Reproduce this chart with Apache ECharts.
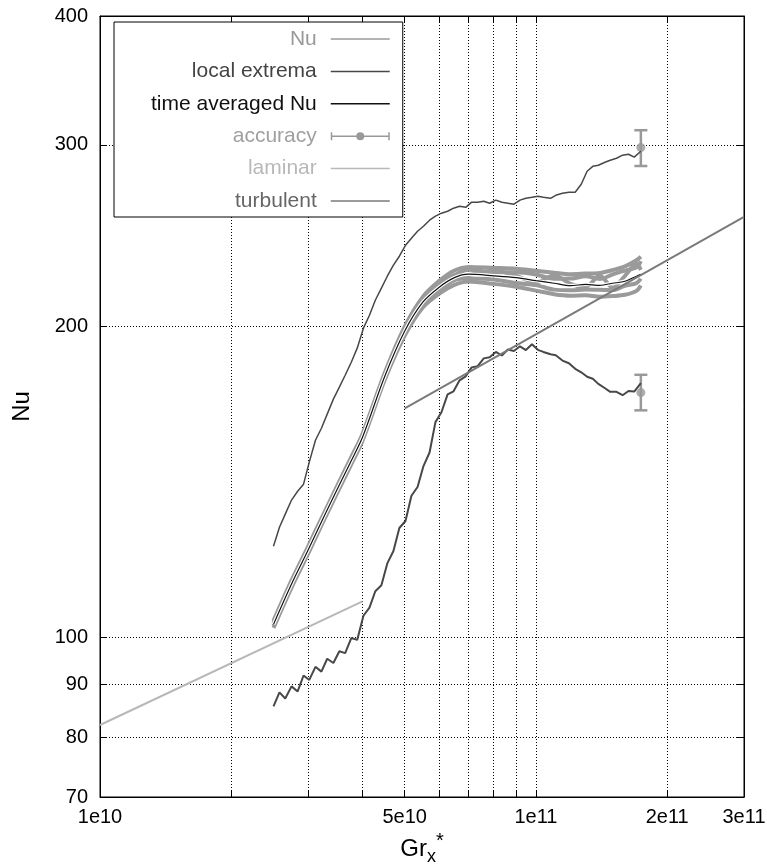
<!DOCTYPE html>
<html>
<head>
<meta charset="utf-8">
<script src="https://cdn.jsdelivr.net/npm/echarts@6/dist/echarts.min.js"></script>
<style>
html, body { margin: 0; padding: 0; background: #fff; }
#chart { width: 767px; height: 865px; }
</style>
</head>
<body>
<div id="chart"></div>
<script>
// Gr_x* positions of the instantaneous Nu curves and their time average
const grBand = [2.5e10, 2.75e10, 3e10, 3.25e10, 3.5e10, 3.75e10, 4e10, 4.5e10, 5e10, 5.5e10, 6e10, 6.5e10,
	7e10, 8e10, 9e10, 1e11, 1.1e11, 1.2e11, 1.3e11, 1.4e11, 1.5e11, 1.6e11, 1.7e11, 1.74e11];
const nuAvg = [102.9, 112.6, 121.4, 130.4, 139.1, 147.6, 156.2, 179.0, 198.0, 211.2, 218.4, 223.1,
	224.8, 224.0, 223.1, 221.6, 220.3, 219.1, 219.8, 219.3, 220.3, 221.3, 223.8, 224.8];
const nuA = [103.7, 113.5, 122.4, 131.4, 140.2, 148.8, 157.4, 180.4, 200.0, 213.7, 221.5, 226.7,
	228.4, 228.0, 227.6, 226.5, 225.6, 224.8, 225.1, 225.4, 226.9, 228.8, 231.9, 233.8];
const nuB = [102.1, 111.7, 120.4, 129.4, 138.0, 146.4, 155.0, 177.6, 196.0, 208.7, 215.3, 219.5,
	221.2, 220.0, 218.6, 216.7, 215.0, 214.3, 214.5, 213.8, 214.1, 214.7, 216.6, 219.2];
const nuC = [103.3, 113.1, 121.9, 130.9, 139.7, 148.2, 156.8, 179.7, 198.8, 212.5, 220.1, 224.4,
	227.0, 225.8, 225.8, 224.7, 222.5, 222.6, 223.8, 222.4, 224.7, 226.6, 228.3, 231.5];
const nuD = [102.5, 112.2, 120.9, 129.9, 138.5, 147.0, 155.6, 178.3, 197.0, 209.9, 216.7, 221.8,
	222.6, 222.2, 220.4, 219.4, 217.2, 216.9, 217.2, 217.1, 217.0, 219.1, 220.4, 222.6];
const nuE = [102.9, 112.6, 121.4, 130.4, 139.1, 147.6, 156.2, 179.0, 198.0, 211.6, 218.4, 224.0,
	224.4, 226.7, 224.0, 220.7, 224.3, 220.0, 218.5, 224.1, 218.1, 224.0, 230.1, 227.0];

// local extrema (upper and lower envelope)
const grExt = [2.50e10, 2.58e10, 2.66e10, 2.75e10, 2.84e10, 2.93e10, 3.02e10, 3.12e10, 3.22e10, 3.32e10,
	3.43e10, 3.54e10, 3.65e10, 3.77e10, 3.89e10, 4.02e10, 4.15e10, 4.28e10, 4.42e10, 4.56e10,
	4.71e10, 4.86e10, 5.02e10, 5.18e10, 5.35e10, 5.52e10, 5.70e10, 5.88e10, 6.07e10, 6.27e10,
	6.47e10, 6.68e10, 6.90e10, 7.12e10, 7.35e10, 7.59e10, 7.83e10, 8.09e10, 8.35e10, 8.62e10,
	8.90e10, 9.19e10, 9.48e10, 9.79e10, 1.01e11, 1.04e11, 1.08e11, 1.11e11, 1.15e11, 1.19e11,
	1.23e11, 1.27e11, 1.31e11, 1.35e11, 1.39e11, 1.44e11, 1.48e11, 1.53e11, 1.58e11, 1.63e11,
	1.68e11, 1.74e11];
const extUpper = [122.5, 127.8, 131.6, 135.8, 138.5, 140.7, 147.8, 155.2, 159.4, 164.5,
	170.1, 174.7, 179.4, 184.7, 190.6, 199.3, 205.1, 212.1, 217.9, 223.8,
	229.4, 234.0, 239.8, 243.6, 247.4, 250.2, 253.6, 255.9, 257.6, 258.7,
	260.5, 261.6, 261.0, 264.0, 264.0, 264.6, 263.4, 265.2, 264.0, 263.4,
	262.8, 265.2, 266.3, 266.9, 267.5, 266.9, 266.3, 268.1, 269.3, 269.9,
	269.9, 274.8, 282.9, 286.0, 286.7, 288.6, 289.9, 291.2, 293.2, 293.8,
	291.9, 295.8];
const extLower = [85.7, 88.4, 87.2, 89.6, 88.6, 91.8, 90.9, 93.6, 92.6, 95.3,
	94.4, 96.9, 96.5, 99.8, 99.4, 104.9, 106.8, 110.8, 112.3, 117.9,
	121.2, 127.6, 129.6, 137.1, 139.8, 146.5, 151.0, 161.6, 165.2, 171.9,
	173.1, 177.4, 179.0, 182.6, 183.1, 186.3, 186.8, 189.0, 187.5, 190.0,
	189.4, 191.4, 189.8, 192.3, 189.9, 189.0, 188.0, 187.6, 185.4, 184.3,
	182.0, 180.6, 178.8, 178.0, 176.0, 174.3, 172.9, 172.9, 171.6, 173.2,
	173.0, 176.3];

// accuracy estimate at the end of the run
const accGr = [1.74e11, 1.74e11];
const accNu = [298.2, 172.6];
const accLow = [286.2, 165.9];
const accHigh = [310.0, 179.6];

// correlations
const lamGr = [1e10, 4e10];
const lamNu = [82.2, 108.3];
const turbGr = [5e10, 3e11];
const turbNu = [166.6, 255.5];

// axes
const xTicks = [1e10, 2e10, 3e10, 4e10, 5e10, 6e10, 7e10, 8e10, 9e10, 1e11, 2e11, 3e11];
const xLabels = [1e10, 5e10, 1e11, 2e11, 3e11];
const yTicks = [70, 80, 90, 100, 200, 300, 400];

const FONT = 'Liberation Sans, Arial, Helvetica, sans-serif';
const pairs = (xs, ys) => xs.map((x, i) => [x, ys[i]]);

const fmtExp = v => {
	const e = Math.floor(Math.log10(v) + 1e-9);
	return Math.round(v / Math.pow(10, e)) + 'e' + e;
};

const dotted = { type: [1, 2], color: '#000', width: 1 };
// plain line sample for the legend (no symbol in the middle)
const LINE_ICON = 'path://M0,0H59V1.5H0Z';
const ACC_ICON = 'path://M0,0H1.5V8H0Z M57.5,0H59V8H57.5Z M0,3.25H59V4.75H0Z M33.5,4A4,4,0,1,1,25.5,4A4,4,0,1,1,33.5,4Z';

const nuLine = data => ({
	name: 'Nu', type: 'line', data, smooth: 0.3, symbol: 'none',
	lineStyle: { color: '#9a9a9a', width: 4 }, itemStyle: { color: '#9a9a9a' }
});

const chart = echarts.init(document.getElementById('chart'));
chart.setOption({
	animation: false,
	grid: {
		left: 100, right: 23, top: 16, bottom: 68, outerBoundsMode: 'none',
		show: true, borderColor: '#000', borderWidth: 1
	},
	legend: {
		orient: 'vertical', align: 'right', left: 114, top: 22,
		padding: [5, 13, 4, 37], itemWidth: 59, itemHeight: 8, itemGap: 8.4,
		borderColor: '#000', borderWidth: 1, borderRadius: 0, backgroundColor: '#fff',
		selectedMode: false, symbolKeepAspect: true,
		textStyle: { fontFamily: FONT, fontSize: 21, lineHeight: 24, padding: [0, 9, 0, 0] },
		data: [
			{ name: 'Nu', icon: LINE_ICON, textStyle: { color: '#999' } },
			{ name: 'local extrema', icon: LINE_ICON, textStyle: { color: '#444' } },
			{ name: 'time averaged Nu', icon: LINE_ICON, textStyle: { color: '#111' } },
			{ name: 'accuracy', icon: ACC_ICON, textStyle: { color: '#a0a0a0' } },
			{ name: 'laminar', icon: LINE_ICON, textStyle: { color: '#b8b8b8' } },
			{ name: 'turbulent', icon: LINE_ICON, textStyle: { color: '#666' } }
		]
	},
	xAxis: [{
		type: 'log', logBase: 10, min: 1e10, max: 3e11,
		name: '{g|Gr}{s|x}{p|*}', nameLocation: 'middle', nameGap: 30,
		nameTextStyle: {
			fontFamily: FONT, color: '#000',
			rich: {
				g: { fontFamily: FONT, fontSize: 24, lineHeight: 34, color: '#000' },
				s: { fontFamily: FONT, fontSize: 18, verticalAlign: 'bottom', lineHeight: 18, color: '#000' },
				p: { fontFamily: FONT, fontSize: 20, verticalAlign: 'top', lineHeight: 18, color: '#000' }
			}
		},
		axisLine: { lineStyle: { color: '#000', width: 1 } },
		axisTick: { inside: true, length: 7, customValues: xTicks, lineStyle: { color: '#000' } },
		axisLabel: { customValues: xLabels, formatter: fmtExp, fontFamily: FONT, fontSize: 20, color: '#000', margin: 10 },
		splitLine: { show: true, lineStyle: dotted }
	}, {
		type: 'log', logBase: 10, min: 1e10, max: 3e11, position: 'top',
		axisLine: { lineStyle: { color: '#000', width: 1 } },
		axisTick: { inside: true, length: 7, customValues: xTicks, lineStyle: { color: '#000' } },
		axisLabel: { show: false },
		splitLine: { show: false }
	}],
	yAxis: [{
		type: 'log', logBase: 10, min: 70, max: 400,
		name: 'Nu', nameLocation: 'middle', nameGap: 66,
		nameTextStyle: { fontFamily: FONT, fontSize: 24, color: '#000' },
		axisLine: { lineStyle: { color: '#000', width: 1 } },
		axisTick: { inside: true, length: 7, customValues: yTicks, lineStyle: { color: '#000' } },
		axisLabel: { customValues: yTicks, fontFamily: FONT, fontSize: 20, color: '#000', margin: 12 },
		splitLine: { show: true, lineStyle: dotted }
	}, {
		type: 'log', logBase: 10, min: 70, max: 400, position: 'right',
		axisLine: { lineStyle: { color: '#000', width: 1 } },
		axisTick: { inside: true, length: 7, customValues: yTicks, lineStyle: { color: '#000' } },
		axisLabel: { show: false },
		splitLine: { show: false }
	}],
	series: [
		nuLine(pairs(grBand, nuA)),
		nuLine(pairs(grBand, nuB)),
		nuLine(pairs(grBand, nuC)),
		nuLine(pairs(grBand, nuD)),
		nuLine(pairs(grBand, nuE)),
		{
			name: 'local extrema', type: 'line', data: pairs(grExt, extUpper), symbol: 'none',
			lineStyle: { color: '#484848', width: 1.5 }, itemStyle: { color: '#484848' }
		},
		{
			name: 'local extrema', type: 'line', data: pairs(grExt, extLower), symbol: 'none',
			lineStyle: { color: '#484848', width: 2 }, itemStyle: { color: '#484848' }
		},
		{
			name: 'avg halo', type: 'line', data: pairs(grBand, nuAvg), smooth: 0.3, symbol: 'none', silent: true,
			lineStyle: { color: '#fff', width: 3.5 }
		},
		{
			name: 'time averaged Nu', type: 'line', data: pairs(grBand, nuAvg), smooth: 0.3, symbol: 'none',
			lineStyle: { color: '#111', width: 1.2 }, itemStyle: { color: '#111' }
		},
		{
			name: 'accuracy', type: 'custom',
			data: accGr.map((x, i) => [x, accLow[i], accHigh[i]]),
			encode: { x: 0, y: [1, 2] },
			itemStyle: { color: '#999' },
			renderItem: (params, api) => {
				const lo = api.coord([api.value(0), api.value(1)]);
				const hi = api.coord([api.value(0), api.value(2)]);
				const cap = 6.5;
				const st = { stroke: '#999', lineWidth: 2.5 };
				return {
					type: 'group',
					children: [
						{ type: 'line', shape: { x1: lo[0], y1: lo[1], x2: hi[0], y2: hi[1] }, style: st },
						{ type: 'line', shape: { x1: lo[0] - cap, y1: lo[1], x2: lo[0] + cap, y2: lo[1] }, style: st },
						{ type: 'line', shape: { x1: hi[0] - cap, y1: hi[1], x2: hi[0] + cap, y2: hi[1] }, style: st }
					]
				};
			}
		},
		{
			name: 'accuracy', type: 'scatter', data: pairs(accGr, accNu), symbol: 'circle', symbolSize: 9,
			itemStyle: { color: '#999' }
		},
		{
			name: 'laminar', type: 'line', data: pairs(lamGr, lamNu), symbol: 'none',
			lineStyle: { color: '#b8b8b8', width: 2 }, itemStyle: { color: '#b8b8b8' }
		},
		{
			name: 'turbulent', type: 'line', data: pairs(turbGr, turbNu), symbol: 'none',
			lineStyle: { color: '#7a7a7a', width: 2 }, itemStyle: { color: '#7a7a7a' }
		}
	]
});
</script>
</body>
</html>
